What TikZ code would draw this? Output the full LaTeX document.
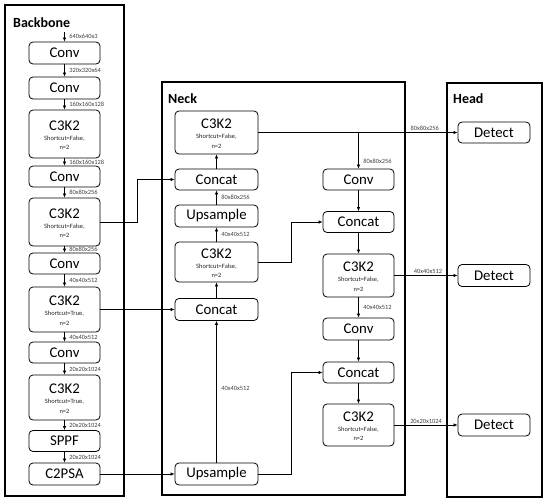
\documentclass[tikz,border=0pt]{standalone}
\usepackage{fontspec}
\setmainfont{Carlito}
\usetikzlibrary{arrows.meta}
\newcommand\CBlock[6]{%
  \node[#2, minimum height=#5pt] (#1) at (#3,#4) {};
  \node[mainl] (#1m) at ([yshift=4pt]#1.center) {C3K2};
  \node[sub] (#1s) at ([yshift=-6pt]#1.center) {Shortcut=#6,};
  \node[sub] (#1n) at ([yshift=-15.5pt]#1.center) {n=2};
}
\begin{document}
\begin{tikzpicture}[x=1pt,y=-1pt,
  panel/.style={draw, line width=2.6pt},
  blk/.style={draw, fill=white, line width=0.8pt, rounded corners=4pt, inner sep=0pt,
    minimum width=71pt, minimum height=22pt, font=\fontsize{14.8}{15}\selectfont},
  wblk/.style={blk, minimum width=83pt},
  ttl/.style={anchor=base west, inner sep=0pt, font=\bfseries\fontsize{14}{15}\selectfont},
  mainl/.style={anchor=base, inner sep=0pt, font=\fontsize{14.8}{15}\selectfont},
  sub/.style={anchor=base, inner sep=0pt, font=\fontsize{6.5}{7}\selectfont, text=black!85},
  dim/.style={inner sep=0pt, anchor=west, xshift=4.5pt, font=\fontsize{6.4}{7}\selectfont, text=black!75},
  hdim/.style={inner sep=0pt, anchor=south, yshift=1.5pt, font=\fontsize{6.4}{7}\selectfont, text=black!75},
  arr/.style={-{Latex[length=4pt,width=3.6pt]}, line width=0.7pt}
]
\useasboundingbox (0,0) rectangle (550,504);
% panels
\draw[panel] (5,5) rectangle (124,496);
\draw[panel] (162,82) rectangle (405,495);
\draw[panel] (447,83) rectangle (542,497);
\node[ttl] (tb) at (13,27) {Backbone};
\node[ttl] (tn) at (168,103) {Neck};
\node[ttl] (th) at (453,103) {Head};
% backbone
\coordinate (in) at (64.5,32);
\node[blk] (b1) at (64.5,53) {Conv};
\node[blk] (b2) at (64.5,88) {Conv};
\CBlock{b3}{blk}{64.5}{134}{48}{False}
\node[blk, minimum height=21pt] (b4) at (64.5,176.5) {Conv};
\CBlock{b5}{blk}{64.5}{222}{48}{False}
\node[blk, minimum height=21pt] (b6) at (64.5,263.5) {Conv};
\CBlock{b7}{blk}{64.5}{309.5}{45}{True}
\node[blk, minimum height=21pt] (b8) at (64.5,352.5) {Conv};
\CBlock{b9}{blk}{64.5}{397.5}{45}{True}
\node[blk, minimum height=21pt] (b10) at (64.5,441) {SPPF};
\node[blk] (b11) at (64.5,474) {C2PSA};
% neck left
\CBlock{n1}{wblk}{216.5}{132.5}{43}{False}
\node[wblk, minimum height=21pt] (n2) at (216.5,179.5) {Concat};
\node[wblk] (n3) at (216.5,216) {Upsample};
\CBlock{n4}{wblk}{216.5}{262}{40}{False}
\node[wblk] (n5) at (216.5,309.5) {Concat};
\node[wblk] (n6) at (216.5,474) {Upsample};
% neck right
\node[blk, minimum height=21pt] (r1) at (358.5,179.5) {Conv};
\node[blk, minimum height=21pt] (r2) at (358.5,222) {Concat};
\CBlock{r3}{blk}{358.5}{275.5}{43}{False}
\node[blk] (r4) at (358.5,329) {Conv};
\node[blk, minimum height=21pt] (r5) at (358.5,372.5) {Concat};
\CBlock{r6}{blk}{358.5}{425}{42}{False}
% head
\node[blk, minimum width=72pt, minimum height=21pt] (h1) at (494,132.5) {Detect};
\node[blk, minimum width=72pt] (h2) at (494,275.5) {Detect};
\node[blk, minimum width=72pt] (h3) at (494,425) {Detect};
% backbone arrows
\draw[arr] (in) -- node[dim] {640x640x3} (b1);
\draw[arr] (b1) -- node[dim] {320x320x64} (b2);
\draw[arr] (b2) -- node[dim] {160x160x128} (b3);
\draw[arr] (b3) -- node[dim] {160x160x128} (b4);
\draw[arr] (b4) -- node[dim] {80x80x256} (b5);
\draw[arr] (b5) -- node[dim] {80x80x256} (b6);
\draw[arr] (b6) -- node[dim] {40x40x512} (b7);
\draw[arr] (b7) -- node[dim] {40x40x512} (b8);
\draw[arr] (b8) -- node[dim] {20x20x1024} (b9);
\draw[arr] (b9) -- node[dim] {20x20x1024} (b10);
\draw[arr] (b10) -- node[dim] {20x20x1024} (b11);
% backbone to neck
\draw[arr] (b5.east) -- ++(37,0) |- (n2);
\draw[arr] (b7) -- (n5);
\draw[arr] (b11) -- (n6);
% neck left column
\draw[arr] (n6) -- node[dim, pos=0.52] {40x40x512} (n5);
\draw[arr] (n5) -- (n4);
\draw[arr] (n4) -- node[dim] {40x40x512} (n3);
\draw[arr] (n3) -- node[dim] {80x80x256} (n2);
\draw[arr] (n2) -- (n1);
% cross connections
\draw[arr] (n6.east) -- ++(32.5,0) |- (r5);
\draw[arr] (n4.east) -- ++(32.5,0) |- (r2);
\draw[arr] (n1) -- node[hdim, pos=0.835] {80x80x256} (h1);
\draw[arr] (r1 |- n1) -- node[dim, pos=0.8] {80x80x256} (r1);
% neck right column
\draw[arr] (r1) -- (r2);
\draw[arr] (r2) -- (r3);
\draw[arr] (r3) -- node[dim] {40x40x512} (r4);
\draw[arr] (r4) -- (r5);
\draw[arr] (r5) -- (r6);
% to head
\draw[arr] (r3) -- node[hdim, pos=0.53] {40x40x512} (h2);
\draw[arr] (r6) -- node[hdim, pos=0.5] {20x20x1024} (h3);
\end{tikzpicture}
\end{document}
